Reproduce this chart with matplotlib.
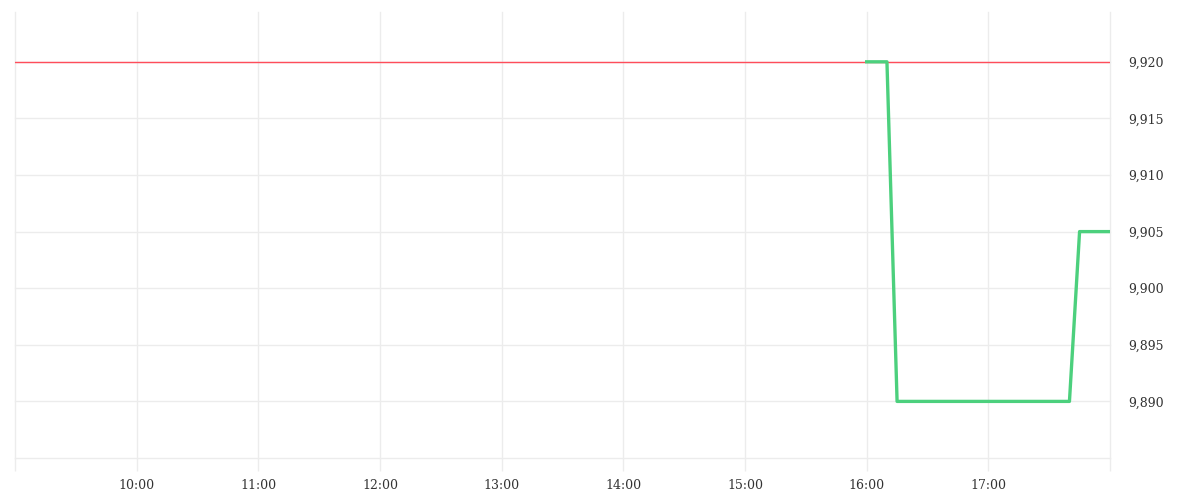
import pandas as pd
import matplotlib
matplotlib.use("Agg")
import matplotlib.pyplot as plt
from matplotlib.ticker import FuncFormatter

# price steps (green) and reference level (red)
times = ["16:00", "16:10", "16:15", "17:40", "17:45", "18:00"]
prices = [9.920, 9.920, 9.890, 9.890, 9.905, 9.905]
ref_level = 9.920

day = "2024-01-02 "
t = pd.to_datetime([day + s for s in times])
x_start = pd.Timestamp(day + "09:00")
x_end = pd.Timestamp(day + "18:00")

fig = plt.figure(figsize=(12, 5), dpi=100)
ax = fig.add_axes([0.0125, 0.084, 0.9125, 0.892])

ax.axhline(ref_level, color="#ff4d5a", lw=1.0, zorder=2)
ax.plot(t, prices, color="#4cd07d", lw=2.4, zorder=3)

ax.set_xlim(x_start, x_end)
ax.set_ylim(9.885, 9.9244)

hours = pd.date_range(x_start, x_end, freq="h")
ax.set_xticks(hours)
ax.set_xticklabels(["" if (h == x_start or h == x_end) else h.strftime("%H:%M") for h in hours])
ax.set_yticks([9.885, 9.890, 9.895, 9.900, 9.905, 9.910, 9.915, 9.920])
ax.yaxis.set_major_formatter(FuncFormatter(
    lambda v, p: "" if v < 9.8875 else f"{v:.3f}".replace(".", ",")))

ax.yaxis.tick_right()
ax.grid(True, color="#ececec", lw=1.0, zorder=0)
for gl in ax.get_xgridlines() + ax.get_ygridlines():
    gl.set_clip_on(False)
for s in ax.spines.values():
    s.set_visible(False)

ax.tick_params(axis="x", length=9, color="#ececec", width=1.0, pad=6,
               labelsize=9, labelcolor="#333333")
ax.tick_params(axis="y", length=0, pad=13, labelsize=9, labelcolor="#333333")
for lab in ax.get_xticklabels() + ax.get_yticklabels():
    lab.set_fontfamily("DejaVu Serif")

fig.savefig("out.png", dpi=100, facecolor="white")
